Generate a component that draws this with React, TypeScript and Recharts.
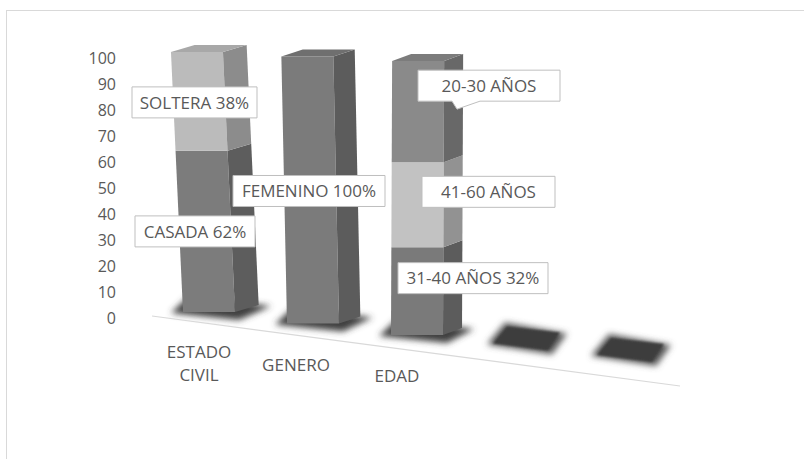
import React from 'react'
import { BarChart, Bar, XAxis, YAxis, LabelList, ReferenceLine } from 'recharts'

// categorias y valores (porcentaje)
const categorias = ['ESTADO CIVIL', 'GENERO', 'EDAD', '', '']
const inferior = [62, 100, 32, 0, 0]
const media = [38, 0, 31, 0, 0]
const superior = [0, 0, 37, 0, 0]
const etiquetasInferior = ['CASADA 62%', 'FEMENINO 100%', '31-40 AÑOS 32%', '', '']
const etiquetasMedia = ['SOLTERA 38%', '', '41-60 AÑOS', '', '']
const etiquetasSuperior = ['', '', '20-30 AÑOS', '', '']
const ticksY = [0, 10, 20, 30, 40, 50, 60, 70, 80, 90, 100]

const data = categorias.map((c, i) => ({
  categoria: c,
  inferior: inferior[i],
  media: media[i],
  superior: superior[i],
  etInf: etiquetasInferior[i],
  etMed: etiquetasMedia[i],
  etSup: etiquetasSuperior[i],
}))

const W = 804
const H = 459
const MARGIN = { top: 58, right: 127, bottom: 111, left: 97 }
const XAXIS_H = 30
const PLOT_BOTTOM = H - MARGIN.bottom - XAXIS_H
const TEXT = '#595959'
const GRID = '#d9d9d9'

// colores de la cara frontal por serie (inferior, media, superior)
const FRENTE = [
  ['#7c7c7c', '#7b7b7b', '#7a7a7a', '#7a7a7a', '#7a7a7a'],
  ['#bbbbbb', '#bbbbbb', '#c2c2c2', '#c2c2c2', '#c2c2c2'],
  ['#8a8a8a', '#8a8a8a', '#8a8a8a', '#8a8a8a', '#8a8a8a'],
]

function shade(hex: string, f: number) {
  const n = parseInt(hex.slice(1), 16)
  const r = Math.round(((n >> 16) & 255) * f)
  const g = Math.round(((n >> 8) & 255) * f)
  const b = Math.round((n & 255) * f)
  return `rgb(${r},${g},${b})`
}

// pseudo perspectiva 3D
const VX = 400
const LEAN = 0.063
const FULL = 260
function geom(i: number) {
  return { base: PLOT_BOTTOM - 6 + 11.5 * i, s: 1 + 0.027 * i, dx: 24 - 2.5 * i, dz: 7 }
}

function makeShape(k: number) {
  return (p: any) => {
    const i = p.index
    const row = p.payload
    const vals = [row.inferior || 0, row.media || 0, row.superior || 0]
    const total = vals[0] + vals[1] + vals[2]
    const { base, s, dx, dz } = geom(i)
    const x0 = p.x
    const w = p.width
    const cx = x0 + w / 2
    const pt = (x: number, y: number) => `${x - ((VX - cx) * LEAN * (base - y)) / FULL},${y}`
    if (total === 0) {
      if (k !== 0) return null
      const halo = [
        `${x0 - 8},${base - 2}`,
        `${x0 + w + 5},${base + 8}`,
        `${x0 + w + 20},${base - 13}`,
        `${x0 + 10},${base - 24}`,
      ]
      const core = [
        `${x0 - 2},${base - 3}`,
        `${x0 + w + 1},${base + 4}`,
        `${x0 + w + 13},${base - 14}`,
        `${x0 + 12},${base - 20}`,
      ]
      return (
        <g>
          <polygon points={halo.join(' ')} fill="#555555" filter="url(#desenfoque)" />
          <polygon points={core.join(' ')} fill="#3c3c3c" filter="url(#suave)" />
        </g>
      )
    }
    if (!p.height || p.height <= 0) return null
    const yT = base - (PLOT_BOTTOM - p.y) * s
    const yB = base - (PLOT_BOTTOM - p.y - p.height) * s
    const cum = vals.slice(0, k + 1).reduce((a, b) => a + b, 0)
    const isTop = cum >= total
    const front = FRENTE[k][i]
    return (
      <g>
        {k === 0 && (
          <polygon
            points={[
              `${x0 - 12},${base + 1}`,
              `${x0 + w + 4},${base + 8}`,
              `${x0 + w + dx + 12},${base - 6}`,
              `${x0 + 6},${base - 16}`,
            ].join(' ')}
            fill="#3f3f3f"
            filter="url(#desenfoque)"
          />
        )}
        <polygon points={[pt(x0, yB), pt(x0 + w, yB), pt(x0 + w, yT), pt(x0, yT)].join(' ')} fill={front} />
        <polygon
          points={[pt(x0 + w, yB), pt(x0 + w + dx, yB - dz), pt(x0 + w + dx, yT - dz), pt(x0 + w, yT)].join(' ')}
          fill={shade(front, 0.75)}
        />
        {isTop && (
          <polygon
            points={[pt(x0, yT), pt(x0 + dx, yT - dz), pt(x0 + w + dx, yT - dz), pt(x0 + w, yT)].join(' ')}
            fill={shade(front, 0.9)}
          />
        )}
      </g>
    )
  }
}

// posicion de las llamadas respecto del segmento
const CAJAS: Record<string, { dx: number; dy: number; w: number; tip?: boolean }> = {
  '0-0': { dx: -14, dy: 0, w: 120 },
  '1-0': { dx: -14.5, dy: 1, w: 125 },
  '0-1': { dx: -4, dy: 1, w: 152 },
  '0-2': { dx: 56, dy: -13, w: 150 },
  '1-2': { dx: 71.5, dy: -13, w: 133 },
  '2-2': { dx: 72, dy: -26, w: 142, tip: true },
}

function makeLabel(k: number) {
  return (p: any) => {
    const value = p.value
    if (!value) return null
    const i = p.index
    const vb = p.viewBox && p.viewBox.width !== undefined ? p.viewBox : p
    const cfg = CAJAS[`${k}-${i}`]
    if (!cfg) return null
    const { base, s } = geom(i)
    const cxBar = vb.x + vb.width / 2
    const yMid = base - (PLOT_BOTTOM - (vb.y + vb.height / 2)) * s
    const cx = cxBar + cfg.dx
    const cy = yMid + cfg.dy
    const hh = 15.5
    const l = cx - cfg.w / 2
    const r = cx + cfg.w / 2
    const t = cy - hh
    const b = cy + hh
    const d = cfg.tip
      ? `M${l},${t}H${r}V${b}H${cx - 9}L${cx - 32},${b + 8}L${cx - 37},${b}H${l}Z`
      : `M${l},${t}H${r}V${b}H${l}Z`
    return (
      <g>
        <path d={d} fill="#ffffff" stroke="#bfbfbf" strokeWidth={1} />
        <text x={cx} y={cy} textAnchor="middle" dy="0.36em" fontSize={17} fill={TEXT}>
          {value}
        </text>
      </g>
    )
  }
}

const TICK_OFF = [
  { dx: -10, dy: 45.5 },
  { dx: -17, dy: 47 },
  { dx: -20, dy: 58 },
  { dx: -20, dy: 70 },
  { dx: -20, dy: 82 },
]

function CategoriaTick(p: any) {
  const value: string = p.payload?.value ?? ''
  if (!value) return null
  const off = TICK_OFF[p.index] || TICK_OFF[0]
  const lines = value.includes(' ') ? value.split(' ') : [value]
  const cy = PLOT_BOTTOM + off.dy
  const lh = 23
  return (
    <g>
      {lines.map((ln, j) => (
        <text
          key={j}
          x={p.x + off.dx}
          y={cy + (j - (lines.length - 1) / 2) * lh}
          dy="0.36em"
          textAnchor="middle"
          fontSize={17}
          fill={TEXT}
        >
          {ln}
        </text>
      ))}
    </g>
  )
}

function Piso(p: any) {
  return <line x1={p.x1 - 5} y1={p.y1 - 2} x2={p.x2 + 3} y2={p.y2 + 68} stroke={GRID} strokeWidth={1.2} />
}

export default function App() {
  return (
    <div
      style={{
        position: 'absolute',
        left: 0,
        top: 0,
        width: W,
        height: H,
        background: '#ffffff',
        fontFamily: '"Open Sans", sans-serif',
        overflow: 'hidden',
      }}
    >
      <div
        style={{
          position: 'absolute',
          left: 6,
          top: 10,
          width: W,
          height: H,
          borderTop: `1px solid ${GRID}`,
          borderLeft: `1px solid ${GRID}`,
        }}
      />
      <svg width={0} height={0} style={{ position: 'absolute' }}>
        <defs>
          <filter id="desenfoque" x="-50%" y="-50%" width="200%" height="200%">
            <feGaussianBlur stdDeviation="3" />
          </filter>
          <filter id="suave" x="-50%" y="-50%" width="200%" height="200%">
            <feGaussianBlur stdDeviation="0.8" />
          </filter>
        </defs>
      </svg>
      <div style={{ position: 'absolute', left: 0, top: 0 }}>
        <BarChart width={W} height={H} data={data} margin={MARGIN}>
          <ReferenceLine y={0} shape={Piso} />
          <XAxis
            dataKey="categoria"
            height={XAXIS_H}
            axisLine={false}
            tickLine={false}
            interval={0}
            tick={<CategoriaTick />}
          />
          <YAxis
            width={60}
            domain={[0, 100]}
            ticks={ticksY}
            axisLine={false}
            tickLine={false}
            tickSize={0}
            tickMargin={41}
            tick={{ fontSize: 16, fill: TEXT }}
          />
          <Bar dataKey="inferior" stackId="a" barSize={52} shape={makeShape(0)} isAnimationActive={false}>
            <LabelList dataKey="etInf" content={makeLabel(0)} />
          </Bar>
          <Bar dataKey="media" stackId="a" barSize={52} shape={makeShape(1)} isAnimationActive={false}>
            <LabelList dataKey="etMed" content={makeLabel(1)} />
          </Bar>
          <Bar dataKey="superior" stackId="a" barSize={52} shape={makeShape(2)} isAnimationActive={false}>
            <LabelList dataKey="etSup" content={makeLabel(2)} />
          </Bar>
        </BarChart>
      </div>
    </div>
  )
}
